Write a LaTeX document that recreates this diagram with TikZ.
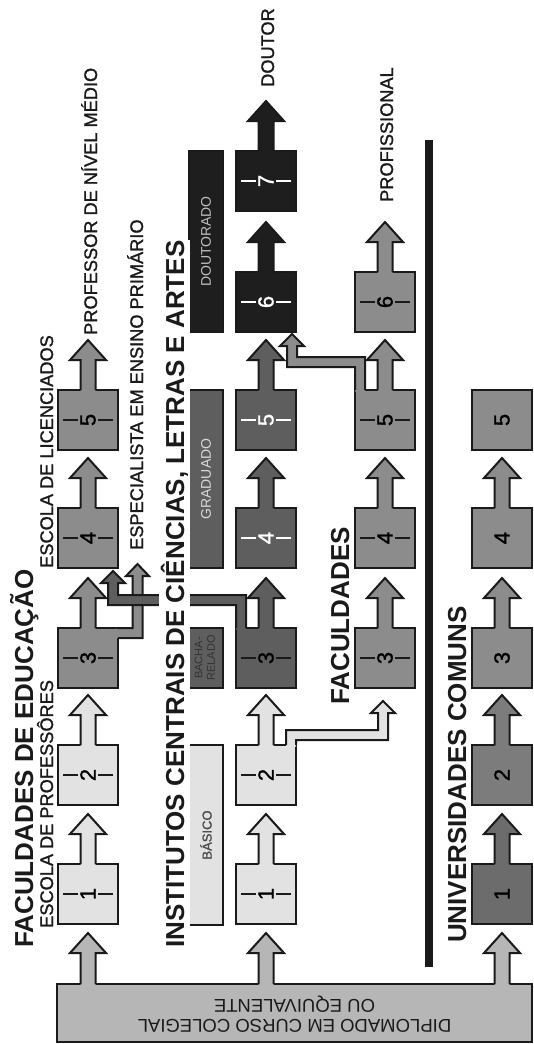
\documentclass[tikz,border=0pt]{standalone}
\usepackage{fontspec}
\setmainfont{Liberation Sans}
\newfontfamily\medfont[FakeBold=1.3]{Liberation Sans}
\usepackage{graphicx}

\definecolor{lightg}{HTML}{E2E2E2}
\definecolor{baseg}{HTML}{B6B6B6}
\definecolor{midg}{HTML}{8C8C8C}
\definecolor{darkg}{HTML}{5E5E5E}
\definecolor{blackg}{HTML}{1E1E1E}
\definecolor{uniA}{HTML}{6C6C6C}
\definecolor{uniB}{HTML}{7C7C7C}
\definecolor{inkc}{HTML}{1A1A1A}

% block arrow going up: start point, fill colour, shaft length
\newcommand\blockup[3]{%
  \fill[#2] ([shift={(-7.5,1.5)}]#1) -- ++(0,-#3-1.5) -- ++(-10.5,0) -- ++(18,-20) -- ++(18,20) -- ++(-10.5,0) -- ++(0,#3+1.5) -- cycle;
  \draw[outl] ([xshift=-7.5pt]#1) -- ++(0,-#3) -- ++(-10.5,0) -- ++(18,-20) -- ++(18,20) -- ++(-10.5,0) -- ++(0,#3);}

\begin{document}
\begin{tikzpicture}[x=1pt, y=-1pt,
    outl/.style={draw=inkc, line width=2pt, line join=miter},
    box/.style={draw=inkc, line width=2pt, minimum width=60pt, minimum height=60pt, inner sep=0pt, outer sep=0pt, font=\medfont\fontsize{22}{22}\selectfont},
    tickmarks/.style={path picture={\draw[line width=2.5pt, #1] ([xshift=5pt]path picture bounding box.west) -- ++(15pt,0pt) ([xshift=-5pt]path picture bounding box.east) -- ++(-15pt,0pt);}},
    bar/.style={draw=inkc, line width=2pt, minimum width=34pt, inner sep=0pt, outer sep=0pt, font=\fontsize{14}{14}\selectfont},
    lbl/.style={rotate=90, anchor=base west, inner sep=0pt, text=inkc, font=\medfont\fontsize{18.2}{18.2}\selectfont},
    ttl/.style={rotate=90, anchor=base west, inner sep=0pt, text=inkc, font=\bfseries\fontsize{26}{26}\selectfont}]
    \useasboundingbox (0,0) rectangle (533,1044);
    % base
    \node[draw=inkc, line width=2pt, fill=baseg, minimum width=475pt, minimum height=58pt, inner sep=0pt, outer sep=0pt, text=inkc, font=\fontsize{18.5}{20}\selectfont] (base) at (294.5,1013) {\rotatebox{180}{\begin{tabular}{@{}c@{}}DIPLOMADO EM CURSO COLEGIAL\\OU EQUIVALENTE\end{tabular}}};
    % Faculdades de Educacao
    \node[box, fill=lightg, tickmarks=inkc] (a1) at (88,894) {\rotatebox{90}{1}};
    \node[box, fill=lightg, tickmarks=inkc] (a2) at (88,775) {\rotatebox{90}{2}};
    \node[box, fill=midg, tickmarks=inkc] (a3) at (88,658) {\rotatebox{90}{3}};
    \node[box, fill=midg, tickmarks=inkc] (a4) at (88,538) {\rotatebox{90}{4}};
    \node[box, fill=midg, tickmarks=inkc] (a5) at (88,420) {\rotatebox{90}{5}};
    % Institutos Centrais
    \node[box, fill=lightg, tickmarks=inkc] (b1) at (266,894) {\rotatebox{90}{1}};
    \node[box, fill=lightg, tickmarks=inkc] (b2) at (266,775) {\rotatebox{90}{2}};
    \node[box, fill=darkg, tickmarks=inkc] (b3) at (266,658) {\rotatebox{90}{3}};
    \node[box, fill=darkg, tickmarks=white, text=white] (b4) at (266,538) {\rotatebox{90}{4}};
    \node[box, fill=darkg, tickmarks=white, text=white] (b5) at (266,420) {\rotatebox{90}{5}};
    \node[box, fill=blackg, tickmarks=white, text=white] (b6) at (266,302) {\rotatebox{90}{6}};
    \node[box, fill=blackg, tickmarks=white, text=white] (b7) at (266,181) {\rotatebox{90}{7}};
    % Faculdades
    \node[box, fill=midg, tickmarks=inkc] (c3) at (385,658) {\rotatebox{90}{3}};
    \node[box, fill=midg, tickmarks=inkc] (c4) at (385,538) {\rotatebox{90}{4}};
    \node[box, fill=midg, tickmarks=inkc] (c5) at (385,420) {\rotatebox{90}{5}};
    \node[box, fill=midg, tickmarks=inkc] (c6) at (385,302) {\rotatebox{90}{6}};
    % Universidades comuns
    \node[box, fill=uniA] (d1) at (502,894) {\rotatebox{90}{1}};
    \node[box, fill=uniB] (d2) at (502,775) {\rotatebox{90}{2}};
    \node[box, fill=midg] (d3) at (502,658) {\rotatebox{90}{3}};
    \node[box, fill=midg] (d4) at (502,538) {\rotatebox{90}{4}};
    \node[box, fill=midg] (d5) at (502,420) {\rotatebox{90}{5}};
    % arrows out of the base
    \coordinate (ba) at (a1 |- base.north); \coordinate (bb) at (b1 |- base.north); \coordinate (bd) at (d1 |- base.north);
    \blockup{ba}{baseg}{31} \blockup{bb}{baseg}{31} \blockup{bd}{baseg}{31}
    % arrows between the years
    \blockup{a1.north}{lightg}{30} \blockup{a2.north}{lightg}{30} \blockup{a3.north}{midg}{30} \blockup{a4.north}{midg}{30} \blockup{a5.north}{midg}{30}
    \blockup{b1.north}{lightg}{30} \blockup{b2.north}{lightg}{30} \blockup{b3.north}{darkg}{30} \blockup{b4.north}{darkg}{30}
    \blockup{b5.north}{darkg}{30} \blockup{b6.north}{blackg}{30} \blockup{b7.north}{blackg}{30}
    \blockup{c3.north}{midg}{30} \blockup{c4.north}{midg}{30} \blockup{c5.north}{midg}{30} \blockup{c6.north}{midg}{30}
    \blockup{d1.north}{uniA}{30} \blockup{d2.north}{uniB}{30} \blockup{d3.north}{midg}{30} \blockup{d4.north}{midg}{30}
    % a3 -> especialista
    \begin{scope}[shift={(a3.north east)}]
        \fill[midg] (-1.5,0) -- (14.5,0) -- (14.5,-52) -- (8,-52) -- (19.5,-64) -- (31,-52) -- (24.5,-52) -- (24.5,10) -- (-1.5,10) -- cycle;
        \draw[outl] (-1,0) -- (14.5,0) -- (14.5,-52) -- (8,-52) -- (19.5,-64) -- (31,-52) -- (24.5,-52) -- (24.5,10) -- (0,10);
    \end{scope}
    % b2 -> c3
    \begin{scope}[shift={(b2.north east)}]
        \fill[lightg] (-10,1.5) -- (-10,-15) -- (82,-15) -- (82,-32) -- (75,-32) -- (87,-44) -- (99,-32) -- (92,-32) -- (92,-5) -- (0,-5) -- (0,1.5) -- cycle;
        \draw[outl] (-10,0) -- (-10,-15) -- (82,-15) -- (82,-32) -- (75,-32) -- (87,-44) -- (99,-32) -- (92,-32) -- (92,-5) -- (0,-5) -- (0,0);
    \end{scope}
    % c5 -> b6
    \begin{scope}[shift={(c5.north west)}]
        \fill[midg] (0,1.5) -- (0,-23) -- (-68,-23) -- (-68,-44) -- (-75,-44) -- (-63,-56) -- (-51,-44) -- (-58,-44) -- (-58,-33) -- (10,-33) -- (10,1.5) -- cycle;
        \draw[outl] (0,0) -- (0,-23) -- (-68,-23) -- (-68,-44) -- (-75,-44) -- (-63,-56) -- (-51,-44) -- (-58,-44) -- (-58,-33) -- (10,-33) -- (10,0);
    \end{scope}
    % b3 -> a4
    \begin{scope}[shift={(b3.north west)}]
        \fill[darkg] (0,1.5) -- (0,-23) -- (-128,-23) -- (-128,-45) -- (-135,-45) -- (-123,-57) -- (-111,-45) -- (-118,-45) -- (-118,-33) -- (10,-33) -- (10,1.5) -- cycle;
        \draw[outl] (0,0) -- (0,-23) -- (-128,-23) -- (-128,-45) -- (-135,-45) -- (-123,-57) -- (-111,-45) -- (-118,-45) -- (-118,-33) -- (10,-33) -- (10,0);
    \end{scope}
    % degree bars
    \node[bar, fill=lightg, minimum height=180pt, text=black!70, font=\medfont\fontsize{13}{13}\selectfont] (basico) at (206,835) {\rotatebox{90}{BÁSICO}};
    \node[bar, fill=darkg, minimum height=60pt, text=black!80, font=\fontsize{11}{12.5}\selectfont] (bacha) at (206,658) {\rotatebox{90}{\begin{tabular}{@{}c@{}}BACHA-\\RELADO\end{tabular}}};
    \node[bar, fill=darkg, minimum height=178pt, text=black!15] (grad) at (206,479) {\rotatebox{90}{GRADUADO}};
    \node[bar, fill=blackg, minimum height=181pt, text=black!25] (dout) at (206,241.5) {\rotatebox{90}{DOUTORADO}};
    % dividing rule
    \fill[inkc] (425,140) rectangle (433,967);
    % titles and labels
    \node[ttl] (tfe) at (33,948) {FACULDADES DE EDUCAÇÃO};
    \node[lbl] (lprof) at (53,928) {ESCOLA DE PROFESSÔRES};
    \node[lbl] (llic) at (53,568) {ESCOLA DE LICENCIADOS};
    \node[lbl] (lmed) at (97,335) {PROFESSOR DE NÍVEL MÉDIO};
    \node[lbl] (lesp) at (143,550) {ESPECIALISTA EM ENSINO PRIMÁRIO};
    \node[ttl, fill=white, inner ysep=1.5pt] (tic) at (184,948) {INSTITUTOS CENTRAIS DE CIÊNCIAS, LETRAS E ARTES};
    \node[lbl] (ldr) at (274,87) {DOUTOR};
    \node[lbl] (lpf) at (393,202) {PROFISSIONAL};
    \node[ttl] (tfac) at (349,705) {FACULDADES};
    \node[ttl] (tuc) at (466,943) {UNIVERSIDADES COMUNS};
\end{tikzpicture}
\end{document}
